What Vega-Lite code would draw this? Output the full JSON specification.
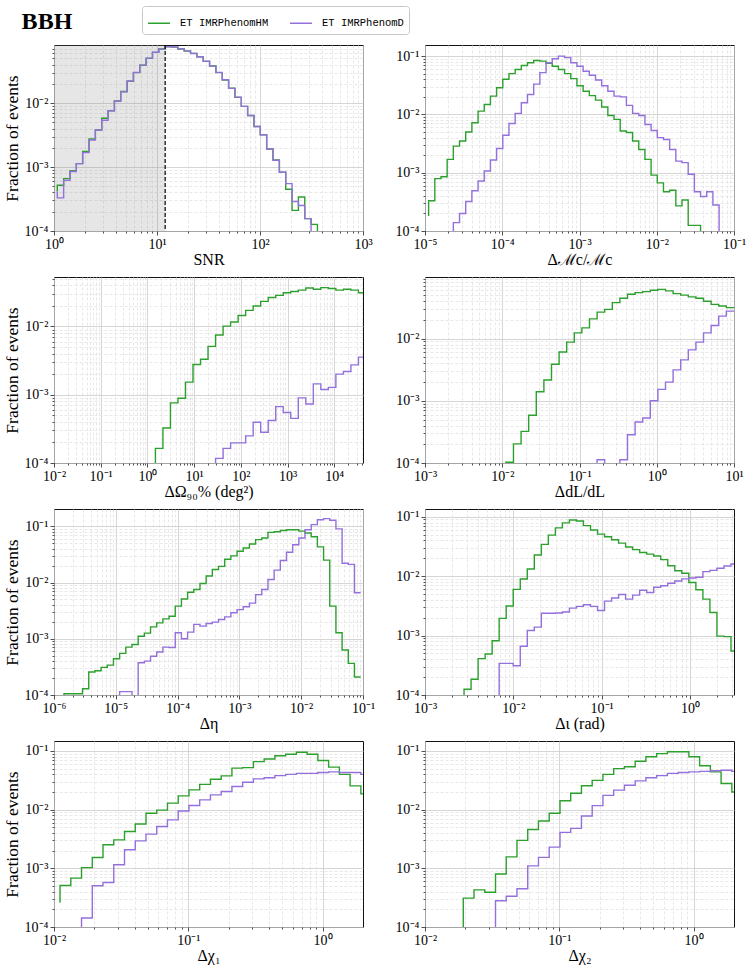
{
"$schema": "https://vega.github.io/schema/vega-lite/v6.json",
"padding": {"left": 2, "top": 5, "right": 5, "bottom": 5},
"title": {"text": "BBH", "anchor": "start", "font": "Liberation Serif", "fontSize": 24, "fontWeight": "bold", "color": "#000", "dx": 19, "offset": -28},
"datasets": {
"p1": [
{"model":"IMRPhenomHM","x":1.0765,"y":0.00042},{"model":"IMRPhenomHM","x":1.0765,"y":0.00052},{"model":"IMRPhenomHM","x":1.2405,"y":0.00066},{"model":"IMRPhenomHM","x":1.4295,"y":0.00088},{"model":"IMRPhenomHM","x":1.647,"y":0.00113},{"model":"IMRPhenomHM","x":1.898,"y":0.00175},{"model":"IMRPhenomHM","x":2.188,"y":0.00275},{"model":"IMRPhenomHM","x":2.521,"y":0.0038},{"model":"IMRPhenomHM","x":2.906,"y":0.0058},{"model":"IMRPhenomHM","x":3.348,"y":0.0076},{"model":"IMRPhenomHM","x":3.858,"y":0.0108},{"model":"IMRPhenomHM","x":4.446,"y":0.0152},{"model":"IMRPhenomHM","x":5.124,"y":0.022},{"model":"IMRPhenomHM","x":5.904,"y":0.03},{"model":"IMRPhenomHM","x":6.804,"y":0.039},{"model":"IMRPhenomHM","x":7.842,"y":0.05},{"model":"IMRPhenomHM","x":9.036,"y":0.062},{"model":"IMRPhenomHM","x":10.41,"y":0.07},{"model":"IMRPhenomHM","x":12.0,"y":0.076},{"model":"IMRPhenomHM","x":13.83,"y":0.075},{"model":"IMRPhenomHM","x":15.94,"y":0.07},{"model":"IMRPhenomHM","x":18.37,"y":0.065},{"model":"IMRPhenomHM","x":21.17,"y":0.06},{"model":"IMRPhenomHM","x":24.39,"y":0.053},{"model":"IMRPhenomHM","x":28.11,"y":0.045},{"model":"IMRPhenomHM","x":32.39,"y":0.038},{"model":"IMRPhenomHM","x":37.33,"y":0.03},{"model":"IMRPhenomHM","x":43.01,"y":0.023},{"model":"IMRPhenomHM","x":49.57,"y":0.0171},{"model":"IMRPhenomHM","x":57.13,"y":0.0123},{"model":"IMRPhenomHM","x":65.83,"y":0.0089},{"model":"IMRPhenomHM","x":75.86,"y":0.0064},{"model":"IMRPhenomHM","x":87.42,"y":0.0043},{"model":"IMRPhenomHM","x":100.7,"y":0.0032},{"model":"IMRPhenomHM","x":116.1,"y":0.00192},{"model":"IMRPhenomHM","x":133.8,"y":0.00129},{"model":"IMRPhenomHM","x":154.2,"y":0.00083},{"model":"IMRPhenomHM","x":177.7,"y":0.00045},{"model":"IMRPhenomHM","x":204.8,"y":0.00021},{"model":"IMRPhenomHM","x":236.0,"y":0.00034},{"model":"IMRPhenomHM","x":271.9,"y":0.000156},{"model":"IMRPhenomHM","x":313.3,"y":0.000127},{"model":"IMRPhenomHM","x":361.1,"y":0.000127},{"model":"IMRPhenomHM","x":361.1,"y":0.00001},
{"model":"IMRPhenomD","x":1.0765,"y":0.00042},{"model":"IMRPhenomD","x":1.0765,"y":0.00033},{"model":"IMRPhenomD","x":1.2405,"y":0.00062},{"model":"IMRPhenomD","x":1.4295,"y":0.00085},{"model":"IMRPhenomD","x":1.647,"y":0.00113},{"model":"IMRPhenomD","x":1.898,"y":0.00168},{"model":"IMRPhenomD","x":2.188,"y":0.00265},{"model":"IMRPhenomD","x":2.521,"y":0.0038},{"model":"IMRPhenomD","x":2.906,"y":0.0054},{"model":"IMRPhenomD","x":3.348,"y":0.0076},{"model":"IMRPhenomD","x":3.858,"y":0.0107},{"model":"IMRPhenomD","x":4.446,"y":0.015},{"model":"IMRPhenomD","x":5.124,"y":0.0222},{"model":"IMRPhenomD","x":5.904,"y":0.0302},{"model":"IMRPhenomD","x":6.804,"y":0.0392},{"model":"IMRPhenomD","x":7.842,"y":0.0505},{"model":"IMRPhenomD","x":9.036,"y":0.0625},{"model":"IMRPhenomD","x":10.41,"y":0.0705},{"model":"IMRPhenomD","x":12.0,"y":0.0765},{"model":"IMRPhenomD","x":13.83,"y":0.0755},{"model":"IMRPhenomD","x":15.94,"y":0.0705},{"model":"IMRPhenomD","x":18.37,"y":0.0655},{"model":"IMRPhenomD","x":21.17,"y":0.0595},{"model":"IMRPhenomD","x":24.39,"y":0.0532},{"model":"IMRPhenomD","x":28.11,"y":0.0452},{"model":"IMRPhenomD","x":32.39,"y":0.0378},{"model":"IMRPhenomD","x":37.33,"y":0.0302},{"model":"IMRPhenomD","x":43.01,"y":0.0232},{"model":"IMRPhenomD","x":49.57,"y":0.017},{"model":"IMRPhenomD","x":57.13,"y":0.0124},{"model":"IMRPhenomD","x":65.83,"y":0.0089},{"model":"IMRPhenomD","x":75.86,"y":0.0064},{"model":"IMRPhenomD","x":87.42,"y":0.0043},{"model":"IMRPhenomD","x":100.7,"y":0.0032},{"model":"IMRPhenomD","x":116.1,"y":0.00192},{"model":"IMRPhenomD","x":133.8,"y":0.00128},{"model":"IMRPhenomD","x":154.2,"y":0.00083},{"model":"IMRPhenomD","x":177.7,"y":0.00055},{"model":"IMRPhenomD","x":204.8,"y":0.00029},{"model":"IMRPhenomD","x":236.0,"y":0.00025},{"model":"IMRPhenomD","x":271.9,"y":0.000156},{"model":"IMRPhenomD","x":313.3,"y":0.000156},{"model":"IMRPhenomD","x":313.3,"y":0.00001}
],
"p2": [
{"model":"IMRPhenomHM","x":1.114e-5,"y":0.00018},{"model":"IMRPhenomHM","x":1.114e-5,"y":0.00033},{"model":"IMRPhenomHM","x":1.340e-5,"y":0.00079},{"model":"IMRPhenomHM","x":1.611e-5,"y":0.00085},{"model":"IMRPhenomHM","x":1.936e-5,"y":0.00169},{"model":"IMRPhenomHM","x":2.328e-5,"y":0.00286},{"model":"IMRPhenomHM","x":2.799e-5,"y":0.0035},{"model":"IMRPhenomHM","x":3.365e-5,"y":0.005},{"model":"IMRPhenomHM","x":4.046e-5,"y":0.0072},{"model":"IMRPhenomHM","x":4.864e-5,"y":0.0114},{"model":"IMRPhenomHM","x":5.848e-5,"y":0.0148},{"model":"IMRPhenomHM","x":7.031e-5,"y":0.0206},{"model":"IMRPhenomHM","x":8.453e-5,"y":0.0287},{"model":"IMRPhenomHM","x":1.016e-4,"y":0.04},{"model":"IMRPhenomHM","x":1.222e-4,"y":0.05},{"model":"IMRPhenomHM","x":1.469e-4,"y":0.059},{"model":"IMRPhenomHM","x":1.766e-4,"y":0.069},{"model":"IMRPhenomHM","x":2.123e-4,"y":0.077},{"model":"IMRPhenomHM","x":2.553e-4,"y":0.084},{"model":"IMRPhenomHM","x":3.069e-4,"y":0.082},{"model":"IMRPhenomHM","x":3.690e-4,"y":0.075},{"model":"IMRPhenomHM","x":4.436e-4,"y":0.067},{"model":"IMRPhenomHM","x":5.333e-4,"y":0.059},{"model":"IMRPhenomHM","x":6.412e-4,"y":0.05},{"model":"IMRPhenomHM","x":7.709e-4,"y":0.041},{"model":"IMRPhenomHM","x":9.268e-4,"y":0.031},{"model":"IMRPhenomHM","x":1.114e-3,"y":0.025},{"model":"IMRPhenomHM","x":1.340e-3,"y":0.021},{"model":"IMRPhenomHM","x":1.611e-3,"y":0.0176},{"model":"IMRPhenomHM","x":1.936e-3,"y":0.0134},{"model":"IMRPhenomHM","x":2.328e-3,"y":0.0096},{"model":"IMRPhenomHM","x":2.799e-3,"y":0.0082},{"model":"IMRPhenomHM","x":3.365e-3,"y":0.0052},{"model":"IMRPhenomHM","x":4.046e-3,"y":0.0049},{"model":"IMRPhenomHM","x":4.864e-3,"y":0.0035},{"model":"IMRPhenomHM","x":5.848e-3,"y":0.0025},{"model":"IMRPhenomHM","x":7.031e-3,"y":0.00169},{"model":"IMRPhenomHM","x":8.453e-3,"y":0.00091},{"model":"IMRPhenomHM","x":1.016e-2,"y":0.00067},{"model":"IMRPhenomHM","x":1.222e-2,"y":0.00047},{"model":"IMRPhenomHM","x":1.469e-2,"y":0.0005},{"model":"IMRPhenomHM","x":1.766e-2,"y":0.00027},{"model":"IMRPhenomHM","x":2.123e-2,"y":0.00034},{"model":"IMRPhenomHM","x":2.553e-2,"y":0.000125},{"model":"IMRPhenomHM","x":3.069e-2,"y":0.000125},{"model":"IMRPhenomHM","x":3.690e-2,"y":0.000125},{"model":"IMRPhenomHM","x":3.690e-2,"y":0.00001},
{"model":"IMRPhenomD","x":2.328e-5,"y":0.00001},{"model":"IMRPhenomD","x":2.328e-5,"y":0.000139},{"model":"IMRPhenomD","x":2.799e-5,"y":0.0002},{"model":"IMRPhenomD","x":3.365e-5,"y":0.00032},{"model":"IMRPhenomD","x":4.046e-5,"y":0.00049},{"model":"IMRPhenomD","x":4.864e-5,"y":0.00072},{"model":"IMRPhenomD","x":5.848e-5,"y":0.00107},{"model":"IMRPhenomD","x":7.031e-5,"y":0.00165},{"model":"IMRPhenomD","x":8.453e-5,"y":0.0026},{"model":"IMRPhenomD","x":1.016e-4,"y":0.0044},{"model":"IMRPhenomD","x":1.222e-4,"y":0.007},{"model":"IMRPhenomD","x":1.469e-4,"y":0.0104},{"model":"IMRPhenomD","x":1.766e-4,"y":0.0158},{"model":"IMRPhenomD","x":2.123e-4,"y":0.022},{"model":"IMRPhenomD","x":2.553e-4,"y":0.033},{"model":"IMRPhenomD","x":3.069e-4,"y":0.052},{"model":"IMRPhenomD","x":3.690e-4,"y":0.077},{"model":"IMRPhenomD","x":4.436e-4,"y":0.09},{"model":"IMRPhenomD","x":5.333e-4,"y":0.1},{"model":"IMRPhenomD","x":6.412e-4,"y":0.094},{"model":"IMRPhenomD","x":7.709e-4,"y":0.077},{"model":"IMRPhenomD","x":9.268e-4,"y":0.067},{"model":"IMRPhenomD","x":1.114e-3,"y":0.055},{"model":"IMRPhenomD","x":1.340e-3,"y":0.047},{"model":"IMRPhenomD","x":1.611e-3,"y":0.039},{"model":"IMRPhenomD","x":1.936e-3,"y":0.031},{"model":"IMRPhenomD","x":2.328e-3,"y":0.025},{"model":"IMRPhenomD","x":2.799e-3,"y":0.0206},{"model":"IMRPhenomD","x":3.365e-3,"y":0.02},{"model":"IMRPhenomD","x":4.046e-3,"y":0.0143},{"model":"IMRPhenomD","x":4.864e-3,"y":0.0104},{"model":"IMRPhenomD","x":5.848e-3,"y":0.0096},{"model":"IMRPhenomD","x":7.031e-3,"y":0.0067},{"model":"IMRPhenomD","x":8.453e-3,"y":0.0053},{"model":"IMRPhenomD","x":1.016e-2,"y":0.004},{"model":"IMRPhenomD","x":1.222e-2,"y":0.0037},{"model":"IMRPhenomD","x":1.469e-2,"y":0.0025},{"model":"IMRPhenomD","x":1.766e-2,"y":0.00158},{"model":"IMRPhenomD","x":2.123e-2,"y":0.00149},{"model":"IMRPhenomD","x":2.553e-2,"y":0.00094},{"model":"IMRPhenomD","x":3.069e-2,"y":0.00047},{"model":"IMRPhenomD","x":3.690e-2,"y":0.00039},{"model":"IMRPhenomD","x":4.436e-2,"y":0.00047},{"model":"IMRPhenomD","x":5.333e-2,"y":0.00028},{"model":"IMRPhenomD","x":6.412e-2,"y":0.00028},{"model":"IMRPhenomD","x":6.412e-2,"y":0.00001}
],
"p3": [
{"model":"IMRPhenomHM","x":1.483,"y":0.00001},{"model":"IMRPhenomHM","x":1.483,"y":0.000164},{"model":"IMRPhenomHM","x":2.148,"y":0.000326},{"model":"IMRPhenomHM","x":3.112,"y":0.00076},{"model":"IMRPhenomHM","x":4.508,"y":0.00089},{"model":"IMRPhenomHM","x":6.531,"y":0.00153},{"model":"IMRPhenomHM","x":9.462,"y":0.00277},{"model":"IMRPhenomHM","x":13.71,"y":0.0033},{"model":"IMRPhenomHM","x":19.86,"y":0.0051},{"model":"IMRPhenomHM","x":28.77,"y":0.0075},{"model":"IMRPhenomHM","x":41.69,"y":0.0101},{"model":"IMRPhenomHM","x":60.39,"y":0.0116},{"model":"IMRPhenomHM","x":87.5,"y":0.0145},{"model":"IMRPhenomHM","x":126.8,"y":0.0172},{"model":"IMRPhenomHM","x":183.7,"y":0.0199},{"model":"IMRPhenomHM","x":266.1,"y":0.0233},{"model":"IMRPhenomHM","x":385.5,"y":0.0266},{"model":"IMRPhenomHM","x":558.5,"y":0.0285},{"model":"IMRPhenomHM","x":809.1,"y":0.0312},{"model":"IMRPhenomHM","x":1172,"y":0.0325},{"model":"IMRPhenomHM","x":1698,"y":0.034},{"model":"IMRPhenomHM","x":2460,"y":0.0365},{"model":"IMRPhenomHM","x":3565,"y":0.035},{"model":"IMRPhenomHM","x":5164,"y":0.037},{"model":"IMRPhenomHM","x":7482,"y":0.036},{"model":"IMRPhenomHM","x":10839,"y":0.034},{"model":"IMRPhenomHM","x":15704,"y":0.035},{"model":"IMRPhenomHM","x":22751,"y":0.034},{"model":"IMRPhenomHM","x":32961,"y":0.0312},{"model":"IMRPhenomHM","x":47753,"y":0.0312},
{"model":"IMRPhenomD","x":28.77,"y":0.00001},{"model":"IMRPhenomD","x":28.77,"y":0.000117},{"model":"IMRPhenomD","x":41.69,"y":0.000164},{"model":"IMRPhenomD","x":60.39,"y":0.000197},{"model":"IMRPhenomD","x":87.5,"y":0.000197},{"model":"IMRPhenomD","x":126.8,"y":0.00025},{"model":"IMRPhenomD","x":183.7,"y":0.000395},{"model":"IMRPhenomD","x":266.1,"y":0.000282},{"model":"IMRPhenomD","x":385.5,"y":0.00042},{"model":"IMRPhenomD","x":558.5,"y":0.00067},{"model":"IMRPhenomD","x":809.1,"y":0.00055},{"model":"IMRPhenomD","x":1172,"y":0.00045},{"model":"IMRPhenomD","x":1698,"y":0.0009},{"model":"IMRPhenomD","x":2460,"y":0.00073},{"model":"IMRPhenomD","x":3565,"y":0.00144},{"model":"IMRPhenomD","x":5164,"y":0.00119},{"model":"IMRPhenomD","x":7482,"y":0.00128},{"model":"IMRPhenomD","x":10839,"y":0.002},{"model":"IMRPhenomD","x":15704,"y":0.00219},{"model":"IMRPhenomD","x":22751,"y":0.00274},{"model":"IMRPhenomD","x":32961,"y":0.00355},{"model":"IMRPhenomD","x":47753,"y":0.00355}
],
"p4": [
{"model":"IMRPhenomHM","x":0.01114,"y":0.00001},{"model":"IMRPhenomHM","x":0.01114,"y":0.000103},{"model":"IMRPhenomHM","x":0.01397,"y":0.000203},{"model":"IMRPhenomHM","x":0.01753,"y":0.000322},{"model":"IMRPhenomHM","x":0.02199,"y":0.000586},{"model":"IMRPhenomHM","x":0.02758,"y":0.0014},{"model":"IMRPhenomHM","x":0.03459,"y":0.00216},{"model":"IMRPhenomHM","x":0.04339,"y":0.00388},{"model":"IMRPhenomHM","x":0.05443,"y":0.00608},{"model":"IMRPhenomHM","x":0.06826,"y":0.0088},{"model":"IMRPhenomHM","x":0.08562,"y":0.0124},{"model":"IMRPhenomHM","x":0.1074,"y":0.0149},{"model":"IMRPhenomHM","x":0.1347,"y":0.0208},{"model":"IMRPhenomHM","x":0.169,"y":0.0267},{"model":"IMRPhenomHM","x":0.2119,"y":0.0295},{"model":"IMRPhenomHM","x":0.2658,"y":0.0379},{"model":"IMRPhenomHM","x":0.3334,"y":0.0445},{"model":"IMRPhenomHM","x":0.4182,"y":0.0517},{"model":"IMRPhenomHM","x":0.5246,"y":0.055},{"model":"IMRPhenomHM","x":0.658,"y":0.057},{"model":"IMRPhenomHM","x":0.8253,"y":0.06},{"model":"IMRPhenomHM","x":1.035,"y":0.062},{"model":"IMRPhenomHM","x":1.298,"y":0.0586},{"model":"IMRPhenomHM","x":1.628,"y":0.053},{"model":"IMRPhenomHM","x":2.043,"y":0.05},{"model":"IMRPhenomHM","x":2.562,"y":0.047},{"model":"IMRPhenomHM","x":3.214,"y":0.0445},{"model":"IMRPhenomHM","x":4.031,"y":0.04},{"model":"IMRPhenomHM","x":5.056,"y":0.0356},{"model":"IMRPhenomHM","x":6.342,"y":0.0334},{"model":"IMRPhenomHM","x":7.954,"y":0.0315},{"model":"IMRPhenomHM","x":10.0,"y":0.0315},
{"model":"IMRPhenomD","x":0.169,"y":0.00001},{"model":"IMRPhenomD","x":0.169,"y":0.000113},{"model":"IMRPhenomD","x":0.2119,"y":0.00001},{"model":"IMRPhenomD","x":0.3334,"y":0.00001},{"model":"IMRPhenomD","x":0.3334,"y":0.000113},{"model":"IMRPhenomD","x":0.4182,"y":0.000285},{"model":"IMRPhenomD","x":0.5246,"y":0.000456},{"model":"IMRPhenomD","x":0.658,"y":0.00053},{"model":"IMRPhenomD","x":0.8253,"y":0.001},{"model":"IMRPhenomD","x":1.035,"y":0.00153},{"model":"IMRPhenomD","x":1.298,"y":0.002},{"model":"IMRPhenomD","x":1.628,"y":0.00314},{"model":"IMRPhenomD","x":2.043,"y":0.00456},{"model":"IMRPhenomD","x":2.562,"y":0.0066},{"model":"IMRPhenomD","x":3.214,"y":0.0088},{"model":"IMRPhenomD","x":4.031,"y":0.0124},{"model":"IMRPhenomD","x":5.056,"y":0.0163},{"model":"IMRPhenomD","x":6.342,"y":0.023},{"model":"IMRPhenomD","x":7.954,"y":0.0277},{"model":"IMRPhenomD","x":10.0,"y":0.0277}
],
"p5": [
{"model":"IMRPhenomHM","x":1.452e-6,"y":0.00001},{"model":"IMRPhenomHM","x":1.452e-6,"y":0.000105},{"model":"IMRPhenomHM","x":1.828e-6,"y":0.000105},{"model":"IMRPhenomHM","x":2.302e-6,"y":0.000105},{"model":"IMRPhenomHM","x":2.897e-6,"y":0.000129},{"model":"IMRPhenomHM","x":3.648e-6,"y":0.000256},{"model":"IMRPhenomHM","x":4.592e-6,"y":0.00027},{"model":"IMRPhenomHM","x":5.781e-6,"y":0.00031},{"model":"IMRPhenomHM","x":7.278e-6,"y":0.00034},{"model":"IMRPhenomHM","x":9.162e-6,"y":0.00044},{"model":"IMRPhenomHM","x":1.153e-5,"y":0.00055},{"model":"IMRPhenomHM","x":1.452e-5,"y":0.00071},{"model":"IMRPhenomHM","x":1.828e-5,"y":0.00079},{"model":"IMRPhenomHM","x":2.302e-5,"y":0.00111},{"model":"IMRPhenomHM","x":2.897e-5,"y":0.00126},{"model":"IMRPhenomHM","x":3.648e-5,"y":0.00163},{"model":"IMRPhenomHM","x":4.592e-5,"y":0.00192},{"model":"IMRPhenomHM","x":5.781e-5,"y":0.00226},{"model":"IMRPhenomHM","x":7.278e-5,"y":0.00252},{"model":"IMRPhenomHM","x":9.162e-5,"y":0.0038},{"model":"IMRPhenomHM","x":1.153e-4,"y":0.0051},{"model":"IMRPhenomHM","x":1.452e-4,"y":0.0067},{"model":"IMRPhenomHM","x":1.828e-4,"y":0.0075},{"model":"IMRPhenomHM","x":2.302e-4,"y":0.0096},{"model":"IMRPhenomHM","x":2.897e-4,"y":0.0131},{"model":"IMRPhenomHM","x":3.648e-4,"y":0.017},{"model":"IMRPhenomHM","x":4.592e-4,"y":0.0194},{"model":"IMRPhenomHM","x":5.781e-4,"y":0.026},{"model":"IMRPhenomHM","x":7.278e-4,"y":0.0298},{"model":"IMRPhenomHM","x":9.162e-4,"y":0.036},{"model":"IMRPhenomHM","x":1.153e-3,"y":0.041},{"model":"IMRPhenomHM","x":1.452e-3,"y":0.0485},{"model":"IMRPhenomHM","x":1.828e-3,"y":0.058},{"model":"IMRPhenomHM","x":2.302e-3,"y":0.062},{"model":"IMRPhenomHM","x":2.897e-3,"y":0.078},{"model":"IMRPhenomHM","x":3.648e-3,"y":0.08},{"model":"IMRPhenomHM","x":4.592e-3,"y":0.084},{"model":"IMRPhenomHM","x":5.781e-3,"y":0.087},{"model":"IMRPhenomHM","x":7.278e-3,"y":0.087},{"model":"IMRPhenomHM","x":9.162e-3,"y":0.082},{"model":"IMRPhenomHM","x":1.153e-2,"y":0.076},{"model":"IMRPhenomHM","x":1.452e-2,"y":0.065},{"model":"IMRPhenomHM","x":1.828e-2,"y":0.043},{"model":"IMRPhenomHM","x":2.302e-2,"y":0.025},{"model":"IMRPhenomHM","x":2.897e-2,"y":0.0038},{"model":"IMRPhenomHM","x":3.648e-2,"y":0.00128},{"model":"IMRPhenomHM","x":4.592e-2,"y":0.00063},{"model":"IMRPhenomHM","x":5.781e-2,"y":0.000365},{"model":"IMRPhenomHM","x":7.278e-2,"y":0.000209},{"model":"IMRPhenomHM","x":9.162e-2,"y":0.000209},
{"model":"IMRPhenomD","x":1.153e-5,"y":0.00001},{"model":"IMRPhenomD","x":1.153e-5,"y":0.000115},{"model":"IMRPhenomD","x":1.452e-5,"y":0.000115},{"model":"IMRPhenomD","x":1.828e-5,"y":0.00001},{"model":"IMRPhenomD","x":2.302e-5,"y":0.000375},{"model":"IMRPhenomD","x":2.897e-5,"y":0.0004},{"model":"IMRPhenomD","x":3.648e-5,"y":0.00049},{"model":"IMRPhenomD","x":4.592e-5,"y":0.00058},{"model":"IMRPhenomD","x":5.781e-5,"y":0.00071},{"model":"IMRPhenomD","x":7.278e-5,"y":0.0007},{"model":"IMRPhenomD","x":9.162e-5,"y":0.00128},{"model":"IMRPhenomD","x":1.153e-4,"y":0.001},{"model":"IMRPhenomD","x":1.452e-4,"y":0.00131},{"model":"IMRPhenomD","x":1.828e-4,"y":0.0018},{"model":"IMRPhenomD","x":2.302e-4,"y":0.00168},{"model":"IMRPhenomD","x":2.897e-4,"y":0.00187},{"model":"IMRPhenomD","x":3.648e-4,"y":0.00198},{"model":"IMRPhenomD","x":4.592e-4,"y":0.0022},{"model":"IMRPhenomD","x":5.781e-4,"y":0.00245},{"model":"IMRPhenomD","x":7.278e-4,"y":0.0029},{"model":"IMRPhenomD","x":9.162e-4,"y":0.0033},{"model":"IMRPhenomD","x":1.153e-3,"y":0.0037},{"model":"IMRPhenomD","x":1.452e-3,"y":0.0043},{"model":"IMRPhenomD","x":1.828e-3,"y":0.0061},{"model":"IMRPhenomD","x":2.302e-3,"y":0.0075},{"model":"IMRPhenomD","x":2.897e-3,"y":0.0113},{"model":"IMRPhenomD","x":3.648e-3,"y":0.0166},{"model":"IMRPhenomD","x":4.592e-3,"y":0.0246},{"model":"IMRPhenomD","x":5.781e-3,"y":0.0345},{"model":"IMRPhenomD","x":7.278e-3,"y":0.047},{"model":"IMRPhenomD","x":9.162e-3,"y":0.062},{"model":"IMRPhenomD","x":1.153e-2,"y":0.087},{"model":"IMRPhenomD","x":1.452e-2,"y":0.107},{"model":"IMRPhenomD","x":1.828e-2,"y":0.131},{"model":"IMRPhenomD","x":2.302e-2,"y":0.137},{"model":"IMRPhenomD","x":2.897e-2,"y":0.128},{"model":"IMRPhenomD","x":3.648e-2,"y":0.09},{"model":"IMRPhenomD","x":4.592e-2,"y":0.022},{"model":"IMRPhenomD","x":5.781e-2,"y":0.021},{"model":"IMRPhenomD","x":7.278e-2,"y":0.0066},{"model":"IMRPhenomD","x":9.162e-2,"y":0.0066}
],
"p6": [
{"model":"IMRPhenomHM","x":2.767e-3,"y":0.00001},{"model":"IMRPhenomHM","x":2.767e-3,"y":0.000125},{"model":"IMRPhenomHM","x":3.323e-3,"y":0.000184},{"model":"IMRPhenomHM","x":3.990e-3,"y":0.00041},{"model":"IMRPhenomHM","x":4.792e-3,"y":0.00049},{"model":"IMRPhenomHM","x":5.754e-3,"y":0.00082},{"model":"IMRPhenomHM","x":6.910e-3,"y":0.00195},{"model":"IMRPhenomHM","x":8.298e-3,"y":0.00314},{"model":"IMRPhenomHM","x":9.966e-3,"y":0.006},{"model":"IMRPhenomHM","x":1.197e-2,"y":0.00895},{"model":"IMRPhenomHM","x":1.437e-2,"y":0.0132},{"model":"IMRPhenomHM","x":1.726e-2,"y":0.0227},{"model":"IMRPhenomHM","x":2.073e-2,"y":0.0343},{"model":"IMRPhenomHM","x":2.489e-2,"y":0.049},{"model":"IMRPhenomHM","x":2.989e-2,"y":0.065},{"model":"IMRPhenomHM","x":3.589e-2,"y":0.079},{"model":"IMRPhenomHM","x":4.310e-2,"y":0.088},{"model":"IMRPhenomHM","x":5.176e-2,"y":0.085},{"model":"IMRPhenomHM","x":6.216e-2,"y":0.071},{"model":"IMRPhenomHM","x":7.464e-2,"y":0.06},{"model":"IMRPhenomHM","x":8.964e-2,"y":0.051},{"model":"IMRPhenomHM","x":0.1076,"y":0.046},{"model":"IMRPhenomHM","x":0.1293,"y":0.041},{"model":"IMRPhenomHM","x":0.1552,"y":0.036},{"model":"IMRPhenomHM","x":0.1864,"y":0.031},{"model":"IMRPhenomHM","x":0.2239,"y":0.028},{"model":"IMRPhenomHM","x":0.2688,"y":0.025},{"model":"IMRPhenomHM","x":0.3228,"y":0.0235},{"model":"IMRPhenomHM","x":0.3877,"y":0.0218},{"model":"IMRPhenomHM","x":0.4656,"y":0.019},{"model":"IMRPhenomHM","x":0.5591,"y":0.015},{"model":"IMRPhenomHM","x":0.6714,"y":0.0123},{"model":"IMRPhenomHM","x":0.8063,"y":0.0112},{"model":"IMRPhenomHM","x":0.9683,"y":0.0078},{"model":"IMRPhenomHM","x":1.1628,"y":0.0059},{"model":"IMRPhenomHM","x":1.3964,"y":0.0041},{"model":"IMRPhenomHM","x":1.6768,"y":0.00245},{"model":"IMRPhenomHM","x":2.0137,"y":0.00098},{"model":"IMRPhenomHM","x":2.418,"y":0.00096},{"model":"IMRPhenomHM","x":2.904,"y":0.00055},{"model":"IMRPhenomHM","x":3.4874,"y":0.00055},
{"model":"IMRPhenomD","x":6.910e-3,"y":0.00001},{"model":"IMRPhenomD","x":6.910e-3,"y":0.00034},{"model":"IMRPhenomD","x":8.298e-3,"y":0.00034},{"model":"IMRPhenomD","x":9.966e-3,"y":0.00031},{"model":"IMRPhenomD","x":1.197e-2,"y":0.00066},{"model":"IMRPhenomD","x":1.437e-2,"y":0.00122},{"model":"IMRPhenomD","x":1.726e-2,"y":0.00139},{"model":"IMRPhenomD","x":2.073e-2,"y":0.00237},{"model":"IMRPhenomD","x":2.489e-2,"y":0.00237},{"model":"IMRPhenomD","x":2.989e-2,"y":0.0024},{"model":"IMRPhenomD","x":3.589e-2,"y":0.0025},{"model":"IMRPhenomD","x":4.310e-2,"y":0.0029},{"model":"IMRPhenomD","x":5.176e-2,"y":0.0031},{"model":"IMRPhenomD","x":6.216e-2,"y":0.0033},{"model":"IMRPhenomD","x":7.464e-2,"y":0.0031},{"model":"IMRPhenomD","x":8.964e-2,"y":0.00265},{"model":"IMRPhenomD","x":0.1076,"y":0.0038},{"model":"IMRPhenomD","x":0.1293,"y":0.0043},{"model":"IMRPhenomD","x":0.1552,"y":0.0049},{"model":"IMRPhenomD","x":0.1864,"y":0.0041},{"model":"IMRPhenomD","x":0.2239,"y":0.0048},{"model":"IMRPhenomD","x":0.2688,"y":0.0058},{"model":"IMRPhenomD","x":0.3228,"y":0.0053},{"model":"IMRPhenomD","x":0.3877,"y":0.0065},{"model":"IMRPhenomD","x":0.4656,"y":0.0069},{"model":"IMRPhenomD","x":0.5591,"y":0.0076},{"model":"IMRPhenomD","x":0.6714,"y":0.0083},{"model":"IMRPhenomD","x":0.8063,"y":0.009},{"model":"IMRPhenomD","x":0.9683,"y":0.0093},{"model":"IMRPhenomD","x":1.1628,"y":0.0096},{"model":"IMRPhenomD","x":1.3964,"y":0.0119},{"model":"IMRPhenomD","x":1.6768,"y":0.0125},{"model":"IMRPhenomD","x":2.0137,"y":0.0136},{"model":"IMRPhenomD","x":2.418,"y":0.0148},{"model":"IMRPhenomD","x":2.904,"y":0.016},{"model":"IMRPhenomD","x":3.4874,"y":0.016}
],
"p7": [
{"model":"IMRPhenomHM","x":0.01109,"y":0.00026},{"model":"IMRPhenomHM","x":0.01109,"y":0.00051},{"model":"IMRPhenomHM","x":0.01334,"y":0.00068},{"model":"IMRPhenomHM","x":0.01603,"y":0.00103},{"model":"IMRPhenomHM","x":0.01928,"y":0.00153},{"model":"IMRPhenomHM","x":0.02317,"y":0.00252},{"model":"IMRPhenomHM","x":0.02786,"y":0.00306},{"model":"IMRPhenomHM","x":0.0335,"y":0.00425},{"model":"IMRPhenomHM","x":0.04027,"y":0.0057},{"model":"IMRPhenomHM","x":0.04842,"y":0.0087},{"model":"IMRPhenomHM","x":0.05821,"y":0.0098},{"model":"IMRPhenomHM","x":0.06998,"y":0.0129},{"model":"IMRPhenomHM","x":0.08414,"y":0.0172},{"model":"IMRPhenomHM","x":0.1012,"y":0.0217},{"model":"IMRPhenomHM","x":0.1216,"y":0.027},{"model":"IMRPhenomHM","x":0.1462,"y":0.033},{"model":"IMRPhenomHM","x":0.1758,"y":0.0376},{"model":"IMRPhenomHM","x":0.2113,"y":0.051},{"model":"IMRPhenomHM","x":0.2541,"y":0.052},{"model":"IMRPhenomHM","x":0.3055,"y":0.066},{"model":"IMRPhenomHM","x":0.3673,"y":0.073},{"model":"IMRPhenomHM","x":0.4416,"y":0.083},{"model":"IMRPhenomHM","x":0.5309,"y":0.088},{"model":"IMRPhenomHM","x":0.6383,"y":0.095},{"model":"IMRPhenomHM","x":0.7674,"y":0.088},{"model":"IMRPhenomHM","x":0.9226,"y":0.069},{"model":"IMRPhenomHM","x":1.109,"y":0.053},{"model":"IMRPhenomHM","x":1.334,"y":0.04},{"model":"IMRPhenomHM","x":1.603,"y":0.0254},{"model":"IMRPhenomHM","x":1.928,"y":0.0186},{"model":"IMRPhenomHM","x":2.317,"y":0.0186},
{"model":"IMRPhenomD","x":0.01603,"y":0.00001},{"model":"IMRPhenomD","x":0.01603,"y":0.000142},{"model":"IMRPhenomD","x":0.01928,"y":0.000505},{"model":"IMRPhenomD","x":0.02317,"y":0.000575},{"model":"IMRPhenomD","x":0.02786,"y":0.00115},{"model":"IMRPhenomD","x":0.0335,"y":0.00207},{"model":"IMRPhenomD","x":0.04027,"y":0.00294},{"model":"IMRPhenomD","x":0.04842,"y":0.00383},{"model":"IMRPhenomD","x":0.05821,"y":0.00517},{"model":"IMRPhenomD","x":0.06998,"y":0.0067},{"model":"IMRPhenomD","x":0.08414,"y":0.0095},{"model":"IMRPhenomD","x":0.1012,"y":0.0118},{"model":"IMRPhenomD","x":0.1216,"y":0.0147},{"model":"IMRPhenomD","x":0.1462,"y":0.0179},{"model":"IMRPhenomD","x":0.1758,"y":0.0204},{"model":"IMRPhenomD","x":0.2113,"y":0.0248},{"model":"IMRPhenomD","x":0.2541,"y":0.0293},{"model":"IMRPhenomD","x":0.3055,"y":0.0335},{"model":"IMRPhenomD","x":0.3673,"y":0.035},{"model":"IMRPhenomD","x":0.4416,"y":0.038},{"model":"IMRPhenomD","x":0.5309,"y":0.04},{"model":"IMRPhenomD","x":0.6383,"y":0.0415},{"model":"IMRPhenomD","x":0.7674,"y":0.0415},{"model":"IMRPhenomD","x":0.9226,"y":0.043},{"model":"IMRPhenomD","x":1.109,"y":0.044},{"model":"IMRPhenomD","x":1.334,"y":0.043},{"model":"IMRPhenomD","x":1.603,"y":0.043},{"model":"IMRPhenomD","x":1.928,"y":0.04},{"model":"IMRPhenomD","x":2.317,"y":0.04}
],
"p8": [
{"model":"IMRPhenomHM","x":0.01928,"y":0.00001},{"model":"IMRPhenomHM","x":0.01928,"y":0.00031},{"model":"IMRPhenomHM","x":0.02317,"y":0.00043},{"model":"IMRPhenomHM","x":0.02786,"y":0.00039},{"model":"IMRPhenomHM","x":0.0335,"y":0.0008},{"model":"IMRPhenomHM","x":0.04027,"y":0.00157},{"model":"IMRPhenomHM","x":0.04842,"y":0.003},{"model":"IMRPhenomHM","x":0.05821,"y":0.0046},{"model":"IMRPhenomHM","x":0.06998,"y":0.0064},{"model":"IMRPhenomHM","x":0.08414,"y":0.0087},{"model":"IMRPhenomHM","x":0.1012,"y":0.0142},{"model":"IMRPhenomHM","x":0.1216,"y":0.019},{"model":"IMRPhenomHM","x":0.1462,"y":0.0255},{"model":"IMRPhenomHM","x":0.1758,"y":0.0315},{"model":"IMRPhenomHM","x":0.2113,"y":0.04},{"model":"IMRPhenomHM","x":0.2541,"y":0.05},{"model":"IMRPhenomHM","x":0.3055,"y":0.054},{"model":"IMRPhenomHM","x":0.3673,"y":0.067},{"model":"IMRPhenomHM","x":0.4416,"y":0.08},{"model":"IMRPhenomHM","x":0.5309,"y":0.09},{"model":"IMRPhenomHM","x":0.6383,"y":0.097},{"model":"IMRPhenomHM","x":0.7674,"y":0.097},{"model":"IMRPhenomHM","x":0.9226,"y":0.08},{"model":"IMRPhenomHM","x":1.109,"y":0.056},{"model":"IMRPhenomHM","x":1.334,"y":0.044},{"model":"IMRPhenomHM","x":1.603,"y":0.028},{"model":"IMRPhenomHM","x":1.928,"y":0.02},{"model":"IMRPhenomHM","x":2.317,"y":0.02},
{"model":"IMRPhenomD","x":0.0335,"y":0.00001},{"model":"IMRPhenomD","x":0.0335,"y":0.00028},{"model":"IMRPhenomD","x":0.04027,"y":0.000335},{"model":"IMRPhenomD","x":0.04842,"y":0.00045},{"model":"IMRPhenomD","x":0.05821,"y":0.0011},{"model":"IMRPhenomD","x":0.06998,"y":0.00154},{"model":"IMRPhenomD","x":0.08414,"y":0.0023},{"model":"IMRPhenomD","x":0.1012,"y":0.0041},{"model":"IMRPhenomD","x":0.1216,"y":0.0048},{"model":"IMRPhenomD","x":0.1462,"y":0.0078},{"model":"IMRPhenomD","x":0.1758,"y":0.0117},{"model":"IMRPhenomD","x":0.2113,"y":0.0175},{"model":"IMRPhenomD","x":0.2541,"y":0.0215},{"model":"IMRPhenomD","x":0.3055,"y":0.026},{"model":"IMRPhenomD","x":0.3673,"y":0.031},{"model":"IMRPhenomD","x":0.4416,"y":0.035},{"model":"IMRPhenomD","x":0.5309,"y":0.038},{"model":"IMRPhenomD","x":0.6383,"y":0.0415},{"model":"IMRPhenomD","x":0.7674,"y":0.043},{"model":"IMRPhenomD","x":0.9226,"y":0.044},{"model":"IMRPhenomD","x":1.109,"y":0.045},{"model":"IMRPhenomD","x":1.334,"y":0.046},{"model":"IMRPhenomD","x":1.603,"y":0.047},{"model":"IMRPhenomD","x":1.928,"y":0.045},{"model":"IMRPhenomD","x":2.317,"y":0.045}
]
},
"config": {
"view": {"stroke": "#111111", "strokeWidth": 1},
"axis": {"domain": false, "labelFont": "Liberation Serif", "labelFontSize": 14, "labelColor": "#000", "titleFont": "Liberation Serif", "titleFontSize": 16, "titleFontWeight": "normal", "titleColor": "#000", "tickColor": "#222", "tickWidth": 0.8, "gridWidth": 0.8, "labelFlush": false, "labelOverlap": false, "labelPadding": 2, "labelBound": false},
"axisX": {"titlePadding": 0},
"axisY": {"titlePadding": 3, "titleFontSize": 17.5},
"legend": {"orient": "none", "legendX": 88, "legendY": -39, "direction": "horizontal", "symbolType": "stroke", "symbolStrokeWidth": 1.5, "symbolSize": 480, "labelFont": "Liberation Mono", "labelFontSize": 10.5, "labelColor": "#000", "columnPadding": 18, "padding": 5, "strokeColor": "#c8c8c8", "fillColor": "#ffffff", "cornerRadius": 3, "labelOffset": 9}
},
"columns": 2,
"spacing": {"row": 46, "column": 62},
"bounds": "flush",
"resolve": {"scale": {"x": "independent", "y": "independent", "color": "shared"}},
"concat": [
{"width": 309, "height": 186, "layer": [
 {"data": {"values": [{"lo": 1, "hi": 12}]}, "mark": {"type": "rect", "color": "#808080", "opacity": 0.2}, "encoding": {"x": {"field": "lo", "type": "quantitative"}, "x2": {"field": "hi"}}},
 {"data": {"name": "p1"}, "mark": {"type": "line", "interpolate": "step-after", "clip": true, "strokeWidth": 1.4},
  "encoding": {
   "x": {"field": "x", "type": "quantitative", "scale": {"type": "log", "domain": [1, 1000], "nice": false}, "axis": {"title": "SNR", "values": [1,2,3,4,5,6,7,8,9,10,20,30,40,50,60,70,80,90,100,200,300,400,500,600,700,800,900,1000], "labelExpr": "abs(log(datum.value)/LN10-round(log(datum.value)/LN10))<0.001 ? '10'+replace(replace(replace(replace(replace(replace(replace(replace(''+round(log(datum.value)/LN10),'-','⁻'),'0','⁰'),'1','¹'),'2','²'),'3','³'),'4','⁴'),'5','⁵'),'6','⁶') : ''", "tickSize": {"condition": {"test": "abs(log(datum.value)/LN10-round(log(datum.value)/LN10))<0.001", "value": 4}, "value": 2}, "gridDash": {"condition": {"test": "abs(log(datum.value)/LN10-round(log(datum.value)/LN10))<0.001", "value": []}, "value": [3, 2]}, "gridColor": {"condition": {"test": "abs(log(datum.value)/LN10-round(log(datum.value)/LN10))<0.001", "value": "#cccccc"}, "value": "#e2e2e2"}}},
   "y": {"field": "y", "type": "quantitative", "scale": {"type": "log", "domain": [0.0001, 0.081], "nice": false}, "axis": {"title": "Fraction of events", "values": [1e-4,2e-4,3e-4,4e-4,5e-4,6e-4,7e-4,8e-4,9e-4,1e-3,2e-3,3e-3,4e-3,5e-3,6e-3,7e-3,8e-3,9e-3,1e-2,2e-2,3e-2,4e-2,5e-2,6e-2,7e-2], "labelExpr": "abs(log(datum.value)/LN10-round(log(datum.value)/LN10))<0.001 ? '10'+replace(replace(replace(replace(replace(replace(replace(replace(''+round(log(datum.value)/LN10),'-','⁻'),'0','⁰'),'1','¹'),'2','²'),'3','³'),'4','⁴'),'5','⁵'),'6','⁶') : ''", "tickSize": {"condition": {"test": "abs(log(datum.value)/LN10-round(log(datum.value)/LN10))<0.001", "value": 4}, "value": 2}, "gridDash": {"condition": {"test": "abs(log(datum.value)/LN10-round(log(datum.value)/LN10))<0.001", "value": []}, "value": [3, 2]}, "gridColor": {"condition": {"test": "abs(log(datum.value)/LN10-round(log(datum.value)/LN10))<0.001", "value": "#cccccc"}, "value": "#e2e2e2"}}},
   "color": {"field": "model", "type": "nominal", "scale": {"domain": ["IMRPhenomHM", "IMRPhenomD"], "range": ["#2ca02c", "#9370db"]}, "legend": {"title": null, "labelExpr": "'ET ' + datum.label"}},
   "order": {"value": null}
  }},
 {"data": {"values": [{"snr": 12}]}, "mark": {"type": "rule", "color": "#000", "strokeDash": [4, 2], "strokeWidth": 1.2}, "encoding": {"x": {"field": "snr", "type": "quantitative"}}}
]},
{"width": 309, "height": 186, "data": {"name": "p2"}, "mark": {"type": "line", "interpolate": "step-after", "clip": true, "strokeWidth": 1.4},
  "encoding": {
   "x": {"field": "x", "type": "quantitative", "scale": {"type": "log", "domain": [1e-5, 0.1], "nice": false}, "axis": {"title": "Δℳc/ℳc", "values": [1e-5,2e-5,3e-5,4e-5,5e-5,6e-5,7e-5,8e-5,9e-5,1e-4,2e-4,3e-4,4e-4,5e-4,6e-4,7e-4,8e-4,9e-4,1e-3,2e-3,3e-3,4e-3,5e-3,6e-3,7e-3,8e-3,9e-3,1e-2,2e-2,3e-2,4e-2,5e-2,6e-2,7e-2,8e-2,9e-2,1e-1], "labelExpr": "abs(log(datum.value)/LN10-round(log(datum.value)/LN10))<0.001 ? '10'+replace(replace(replace(replace(replace(replace(replace(replace(''+round(log(datum.value)/LN10),'-','⁻'),'0','⁰'),'1','¹'),'2','²'),'3','³'),'4','⁴'),'5','⁵'),'6','⁶') : ''", "tickSize": {"condition": {"test": "abs(log(datum.value)/LN10-round(log(datum.value)/LN10))<0.001", "value": 4}, "value": 2}, "gridDash": {"condition": {"test": "abs(log(datum.value)/LN10-round(log(datum.value)/LN10))<0.001", "value": []}, "value": [3, 2]}, "gridColor": {"condition": {"test": "abs(log(datum.value)/LN10-round(log(datum.value)/LN10))<0.001", "value": "#cccccc"}, "value": "#e2e2e2"}}},
   "y": {"field": "y", "type": "quantitative", "scale": {"type": "log", "domain": [0.0001, 0.155], "nice": false}, "axis": {"title": null, "values": [1e-4,2e-4,3e-4,4e-4,5e-4,6e-4,7e-4,8e-4,9e-4,1e-3,2e-3,3e-3,4e-3,5e-3,6e-3,7e-3,8e-3,9e-3,1e-2,2e-2,3e-2,4e-2,5e-2,6e-2,7e-2,8e-2,9e-2,1e-1], "labelExpr": "abs(log(datum.value)/LN10-round(log(datum.value)/LN10))<0.001 ? '10'+replace(replace(replace(replace(replace(replace(replace(replace(''+round(log(datum.value)/LN10),'-','⁻'),'0','⁰'),'1','¹'),'2','²'),'3','³'),'4','⁴'),'5','⁵'),'6','⁶') : ''", "tickSize": {"condition": {"test": "abs(log(datum.value)/LN10-round(log(datum.value)/LN10))<0.001", "value": 4}, "value": 2}, "gridDash": {"condition": {"test": "abs(log(datum.value)/LN10-round(log(datum.value)/LN10))<0.001", "value": []}, "value": [3, 2]}, "gridColor": {"condition": {"test": "abs(log(datum.value)/LN10-round(log(datum.value)/LN10))<0.001", "value": "#cccccc"}, "value": "#e2e2e2"}}},
   "color": {"field": "model", "type": "nominal", "scale": {"domain": ["IMRPhenomHM", "IMRPhenomD"], "range": ["#2ca02c", "#9370db"]}, "legend": {"title": null, "labelExpr": "'ET ' + datum.label"}},
   "order": {"value": null}
  }},
{"width": 309, "height": 186, "data": {"name": "p3"}, "mark": {"type": "line", "interpolate": "step-after", "clip": true, "strokeWidth": 1.4},
  "encoding": {
   "x": {"field": "x", "type": "quantitative", "scale": {"type": "log", "domain": [0.01, 41253], "nice": false}, "axis": {"title": "ΔΩ₉₀% (deg²)", "values": [1e-2,2e-2,3e-2,4e-2,5e-2,6e-2,7e-2,8e-2,9e-2,0.1,0.2,0.3,0.4,0.5,0.6,0.7,0.8,0.9,1,2,3,4,5,6,7,8,9,10,20,30,40,50,60,70,80,90,100,200,300,400,500,600,700,800,900,1000,2000,3000,4000,5000,6000,7000,8000,9000,10000,20000,30000,40000], "labelExpr": "abs(log(datum.value)/LN10-round(log(datum.value)/LN10))<0.001 ? '10'+replace(replace(replace(replace(replace(replace(replace(replace(''+round(log(datum.value)/LN10),'-','⁻'),'0','⁰'),'1','¹'),'2','²'),'3','³'),'4','⁴'),'5','⁵'),'6','⁶') : ''", "tickSize": {"condition": {"test": "abs(log(datum.value)/LN10-round(log(datum.value)/LN10))<0.001", "value": 4}, "value": 2}, "gridDash": {"condition": {"test": "abs(log(datum.value)/LN10-round(log(datum.value)/LN10))<0.001", "value": []}, "value": [3, 2]}, "gridColor": {"condition": {"test": "abs(log(datum.value)/LN10-round(log(datum.value)/LN10))<0.001", "value": "#cccccc"}, "value": "#e2e2e2"}}},
   "y": {"field": "y", "type": "quantitative", "scale": {"type": "log", "domain": [0.0001, 0.053], "nice": false}, "axis": {"title": "Fraction of events", "values": [1e-4,2e-4,3e-4,4e-4,5e-4,6e-4,7e-4,8e-4,9e-4,1e-3,2e-3,3e-3,4e-3,5e-3,6e-3,7e-3,8e-3,9e-3,1e-2,2e-2,3e-2,4e-2,5e-2], "labelExpr": "abs(log(datum.value)/LN10-round(log(datum.value)/LN10))<0.001 ? '10'+replace(replace(replace(replace(replace(replace(replace(replace(''+round(log(datum.value)/LN10),'-','⁻'),'0','⁰'),'1','¹'),'2','²'),'3','³'),'4','⁴'),'5','⁵'),'6','⁶') : ''", "tickSize": {"condition": {"test": "abs(log(datum.value)/LN10-round(log(datum.value)/LN10))<0.001", "value": 4}, "value": 2}, "gridDash": {"condition": {"test": "abs(log(datum.value)/LN10-round(log(datum.value)/LN10))<0.001", "value": []}, "value": [3, 2]}, "gridColor": {"condition": {"test": "abs(log(datum.value)/LN10-round(log(datum.value)/LN10))<0.001", "value": "#cccccc"}, "value": "#e2e2e2"}}},
   "color": {"field": "model", "type": "nominal", "scale": {"domain": ["IMRPhenomHM", "IMRPhenomD"], "range": ["#2ca02c", "#9370db"]}, "legend": {"title": null, "labelExpr": "'ET ' + datum.label"}},
   "order": {"value": null}
  }},
{"width": 309, "height": 186, "data": {"name": "p4"}, "mark": {"type": "line", "interpolate": "step-after", "clip": true, "strokeWidth": 1.4},
  "encoding": {
   "x": {"field": "x", "type": "quantitative", "scale": {"type": "log", "domain": [0.001, 10], "nice": false}, "axis": {"title": "ΔdL/dL", "values": [1e-3,2e-3,3e-3,4e-3,5e-3,6e-3,7e-3,8e-3,9e-3,1e-2,2e-2,3e-2,4e-2,5e-2,6e-2,7e-2,8e-2,9e-2,0.1,0.2,0.3,0.4,0.5,0.6,0.7,0.8,0.9,1,2,3,4,5,6,7,8,9,10], "labelExpr": "abs(log(datum.value)/LN10-round(log(datum.value)/LN10))<0.001 ? '10'+replace(replace(replace(replace(replace(replace(replace(replace(''+round(log(datum.value)/LN10),'-','⁻'),'0','⁰'),'1','¹'),'2','²'),'3','³'),'4','⁴'),'5','⁵'),'6','⁶') : ''", "tickSize": {"condition": {"test": "abs(log(datum.value)/LN10-round(log(datum.value)/LN10))<0.001", "value": 4}, "value": 2}, "gridDash": {"condition": {"test": "abs(log(datum.value)/LN10-round(log(datum.value)/LN10))<0.001", "value": []}, "value": [3, 2]}, "gridColor": {"condition": {"test": "abs(log(datum.value)/LN10-round(log(datum.value)/LN10))<0.001", "value": "#cccccc"}, "value": "#e2e2e2"}}},
   "y": {"field": "y", "type": "quantitative", "scale": {"type": "log", "domain": [0.0001, 0.098], "nice": false}, "axis": {"title": null, "values": [1e-4,2e-4,3e-4,4e-4,5e-4,6e-4,7e-4,8e-4,9e-4,1e-3,2e-3,3e-3,4e-3,5e-3,6e-3,7e-3,8e-3,9e-3,1e-2,2e-2,3e-2,4e-2,5e-2,6e-2,7e-2,8e-2,9e-2], "labelExpr": "abs(log(datum.value)/LN10-round(log(datum.value)/LN10))<0.001 ? '10'+replace(replace(replace(replace(replace(replace(replace(replace(''+round(log(datum.value)/LN10),'-','⁻'),'0','⁰'),'1','¹'),'2','²'),'3','³'),'4','⁴'),'5','⁵'),'6','⁶') : ''", "tickSize": {"condition": {"test": "abs(log(datum.value)/LN10-round(log(datum.value)/LN10))<0.001", "value": 4}, "value": 2}, "gridDash": {"condition": {"test": "abs(log(datum.value)/LN10-round(log(datum.value)/LN10))<0.001", "value": []}, "value": [3, 2]}, "gridColor": {"condition": {"test": "abs(log(datum.value)/LN10-round(log(datum.value)/LN10))<0.001", "value": "#cccccc"}, "value": "#e2e2e2"}}},
   "color": {"field": "model", "type": "nominal", "scale": {"domain": ["IMRPhenomHM", "IMRPhenomD"], "range": ["#2ca02c", "#9370db"]}, "legend": {"title": null, "labelExpr": "'ET ' + datum.label"}},
   "order": {"value": null}
  }},
{"width": 309, "height": 186, "data": {"name": "p5"}, "mark": {"type": "line", "interpolate": "step-after", "clip": true, "strokeWidth": 1.4},
  "encoding": {
   "x": {"field": "x", "type": "quantitative", "scale": {"type": "log", "domain": [1e-6, 0.1], "nice": false}, "axis": {"title": "Δη", "values": [1e-6,2e-6,3e-6,4e-6,5e-6,6e-6,7e-6,8e-6,9e-6,1e-5,2e-5,3e-5,4e-5,5e-5,6e-5,7e-5,8e-5,9e-5,1e-4,2e-4,3e-4,4e-4,5e-4,6e-4,7e-4,8e-4,9e-4,1e-3,2e-3,3e-3,4e-3,5e-3,6e-3,7e-3,8e-3,9e-3,1e-2,2e-2,3e-2,4e-2,5e-2,6e-2,7e-2,8e-2,9e-2,1e-1], "labelExpr": "abs(log(datum.value)/LN10-round(log(datum.value)/LN10))<0.001 ? '10'+replace(replace(replace(replace(replace(replace(replace(replace(''+round(log(datum.value)/LN10),'-','⁻'),'0','⁰'),'1','¹'),'2','²'),'3','³'),'4','⁴'),'5','⁵'),'6','⁶') : ''", "tickSize": {"condition": {"test": "abs(log(datum.value)/LN10-round(log(datum.value)/LN10))<0.001", "value": 4}, "value": 2}, "gridDash": {"condition": {"test": "abs(log(datum.value)/LN10-round(log(datum.value)/LN10))<0.001", "value": []}, "value": [3, 2]}, "gridColor": {"condition": {"test": "abs(log(datum.value)/LN10-round(log(datum.value)/LN10))<0.001", "value": "#cccccc"}, "value": "#e2e2e2"}}},
   "y": {"field": "y", "type": "quantitative", "scale": {"type": "log", "domain": [0.0001, 0.203], "nice": false}, "axis": {"title": "Fraction of events", "values": [1e-4,2e-4,3e-4,4e-4,5e-4,6e-4,7e-4,8e-4,9e-4,1e-3,2e-3,3e-3,4e-3,5e-3,6e-3,7e-3,8e-3,9e-3,1e-2,2e-2,3e-2,4e-2,5e-2,6e-2,7e-2,8e-2,9e-2,1e-1], "labelExpr": "abs(log(datum.value)/LN10-round(log(datum.value)/LN10))<0.001 ? '10'+replace(replace(replace(replace(replace(replace(replace(replace(''+round(log(datum.value)/LN10),'-','⁻'),'0','⁰'),'1','¹'),'2','²'),'3','³'),'4','⁴'),'5','⁵'),'6','⁶') : ''", "tickSize": {"condition": {"test": "abs(log(datum.value)/LN10-round(log(datum.value)/LN10))<0.001", "value": 4}, "value": 2}, "gridDash": {"condition": {"test": "abs(log(datum.value)/LN10-round(log(datum.value)/LN10))<0.001", "value": []}, "value": [3, 2]}, "gridColor": {"condition": {"test": "abs(log(datum.value)/LN10-round(log(datum.value)/LN10))<0.001", "value": "#cccccc"}, "value": "#e2e2e2"}}},
   "color": {"field": "model", "type": "nominal", "scale": {"domain": ["IMRPhenomHM", "IMRPhenomD"], "range": ["#2ca02c", "#9370db"]}, "legend": {"title": null, "labelExpr": "'ET ' + datum.label"}},
   "order": {"value": null}
  }},
{"width": 309, "height": 186, "data": {"name": "p6"}, "mark": {"type": "line", "interpolate": "step-after", "clip": true, "strokeWidth": 1.4},
  "encoding": {
   "x": {"field": "x", "type": "quantitative", "scale": {"type": "log", "domain": [0.001, 3.14159], "nice": false}, "axis": {"title": "Δι (rad)", "values": [1e-3,2e-3,3e-3,4e-3,5e-3,6e-3,7e-3,8e-3,9e-3,1e-2,2e-2,3e-2,4e-2,5e-2,6e-2,7e-2,8e-2,9e-2,0.1,0.2,0.3,0.4,0.5,0.6,0.7,0.8,0.9,1,2,3], "labelExpr": "abs(log(datum.value)/LN10-round(log(datum.value)/LN10))<0.001 ? '10'+replace(replace(replace(replace(replace(replace(replace(replace(''+round(log(datum.value)/LN10),'-','⁻'),'0','⁰'),'1','¹'),'2','²'),'3','³'),'4','⁴'),'5','⁵'),'6','⁶') : ''", "tickSize": {"condition": {"test": "abs(log(datum.value)/LN10-round(log(datum.value)/LN10))<0.001", "value": 4}, "value": 2}, "gridDash": {"condition": {"test": "abs(log(datum.value)/LN10-round(log(datum.value)/LN10))<0.001", "value": []}, "value": [3, 2]}, "gridColor": {"condition": {"test": "abs(log(datum.value)/LN10-round(log(datum.value)/LN10))<0.001", "value": "#cccccc"}, "value": "#e2e2e2"}}},
   "y": {"field": "y", "type": "quantitative", "scale": {"type": "log", "domain": [0.0001, 0.135], "nice": false}, "axis": {"title": null, "values": [1e-4,2e-4,3e-4,4e-4,5e-4,6e-4,7e-4,8e-4,9e-4,1e-3,2e-3,3e-3,4e-3,5e-3,6e-3,7e-3,8e-3,9e-3,1e-2,2e-2,3e-2,4e-2,5e-2,6e-2,7e-2,8e-2,9e-2,1e-1], "labelExpr": "abs(log(datum.value)/LN10-round(log(datum.value)/LN10))<0.001 ? '10'+replace(replace(replace(replace(replace(replace(replace(replace(''+round(log(datum.value)/LN10),'-','⁻'),'0','⁰'),'1','¹'),'2','²'),'3','³'),'4','⁴'),'5','⁵'),'6','⁶') : ''", "tickSize": {"condition": {"test": "abs(log(datum.value)/LN10-round(log(datum.value)/LN10))<0.001", "value": 4}, "value": 2}, "gridDash": {"condition": {"test": "abs(log(datum.value)/LN10-round(log(datum.value)/LN10))<0.001", "value": []}, "value": [3, 2]}, "gridColor": {"condition": {"test": "abs(log(datum.value)/LN10-round(log(datum.value)/LN10))<0.001", "value": "#cccccc"}, "value": "#e2e2e2"}}},
   "color": {"field": "model", "type": "nominal", "scale": {"domain": ["IMRPhenomHM", "IMRPhenomD"], "range": ["#2ca02c", "#9370db"]}, "legend": {"title": null, "labelExpr": "'ET ' + datum.label"}},
   "order": {"value": null}
  }},
{"width": 309, "height": 186, "data": {"name": "p7"}, "mark": {"type": "line", "interpolate": "step-after", "clip": true, "strokeWidth": 1.4},
  "encoding": {
   "x": {"field": "x", "type": "quantitative", "scale": {"type": "log", "domain": [0.01, 2], "nice": false}, "axis": {"title": "Δχ₁", "values": [1e-2,2e-2,3e-2,4e-2,5e-2,6e-2,7e-2,8e-2,9e-2,0.1,0.2,0.3,0.4,0.5,0.6,0.7,0.8,0.9,1], "labelExpr": "abs(log(datum.value)/LN10-round(log(datum.value)/LN10))<0.001 ? '10'+replace(replace(replace(replace(replace(replace(replace(replace(''+round(log(datum.value)/LN10),'-','⁻'),'0','⁰'),'1','¹'),'2','²'),'3','³'),'4','⁴'),'5','⁵'),'6','⁶') : ''", "tickSize": {"condition": {"test": "abs(log(datum.value)/LN10-round(log(datum.value)/LN10))<0.001", "value": 4}, "value": 2}, "gridDash": {"condition": {"test": "abs(log(datum.value)/LN10-round(log(datum.value)/LN10))<0.001", "value": []}, "value": [3, 2]}, "gridColor": {"condition": {"test": "abs(log(datum.value)/LN10-round(log(datum.value)/LN10))<0.001", "value": "#cccccc"}, "value": "#e2e2e2"}}},
   "y": {"field": "y", "type": "quantitative", "scale": {"type": "log", "domain": [0.0001, 0.148], "nice": false}, "axis": {"title": "Fraction of events", "values": [1e-4,2e-4,3e-4,4e-4,5e-4,6e-4,7e-4,8e-4,9e-4,1e-3,2e-3,3e-3,4e-3,5e-3,6e-3,7e-3,8e-3,9e-3,1e-2,2e-2,3e-2,4e-2,5e-2,6e-2,7e-2,8e-2,9e-2,1e-1], "labelExpr": "abs(log(datum.value)/LN10-round(log(datum.value)/LN10))<0.001 ? '10'+replace(replace(replace(replace(replace(replace(replace(replace(''+round(log(datum.value)/LN10),'-','⁻'),'0','⁰'),'1','¹'),'2','²'),'3','³'),'4','⁴'),'5','⁵'),'6','⁶') : ''", "tickSize": {"condition": {"test": "abs(log(datum.value)/LN10-round(log(datum.value)/LN10))<0.001", "value": 4}, "value": 2}, "gridDash": {"condition": {"test": "abs(log(datum.value)/LN10-round(log(datum.value)/LN10))<0.001", "value": []}, "value": [3, 2]}, "gridColor": {"condition": {"test": "abs(log(datum.value)/LN10-round(log(datum.value)/LN10))<0.001", "value": "#cccccc"}, "value": "#e2e2e2"}}},
   "color": {"field": "model", "type": "nominal", "scale": {"domain": ["IMRPhenomHM", "IMRPhenomD"], "range": ["#2ca02c", "#9370db"]}, "legend": {"title": null, "labelExpr": "'ET ' + datum.label"}},
   "order": {"value": null}
  }},
{"width": 309, "height": 186, "data": {"name": "p8"}, "mark": {"type": "line", "interpolate": "step-after", "clip": true, "strokeWidth": 1.4},
  "encoding": {
   "x": {"field": "x", "type": "quantitative", "scale": {"type": "log", "domain": [0.01, 2], "nice": false}, "axis": {"title": "Δχ₂", "values": [1e-2,2e-2,3e-2,4e-2,5e-2,6e-2,7e-2,8e-2,9e-2,0.1,0.2,0.3,0.4,0.5,0.6,0.7,0.8,0.9,1], "labelExpr": "abs(log(datum.value)/LN10-round(log(datum.value)/LN10))<0.001 ? '10'+replace(replace(replace(replace(replace(replace(replace(replace(''+round(log(datum.value)/LN10),'-','⁻'),'0','⁰'),'1','¹'),'2','²'),'3','³'),'4','⁴'),'5','⁵'),'6','⁶') : ''", "tickSize": {"condition": {"test": "abs(log(datum.value)/LN10-round(log(datum.value)/LN10))<0.001", "value": 4}, "value": 2}, "gridDash": {"condition": {"test": "abs(log(datum.value)/LN10-round(log(datum.value)/LN10))<0.001", "value": []}, "value": [3, 2]}, "gridColor": {"condition": {"test": "abs(log(datum.value)/LN10-round(log(datum.value)/LN10))<0.001", "value": "#cccccc"}, "value": "#e2e2e2"}}},
   "y": {"field": "y", "type": "quantitative", "scale": {"type": "log", "domain": [0.0001, 0.148], "nice": false}, "axis": {"title": null, "values": [1e-4,2e-4,3e-4,4e-4,5e-4,6e-4,7e-4,8e-4,9e-4,1e-3,2e-3,3e-3,4e-3,5e-3,6e-3,7e-3,8e-3,9e-3,1e-2,2e-2,3e-2,4e-2,5e-2,6e-2,7e-2,8e-2,9e-2,1e-1], "labelExpr": "abs(log(datum.value)/LN10-round(log(datum.value)/LN10))<0.001 ? '10'+replace(replace(replace(replace(replace(replace(replace(replace(''+round(log(datum.value)/LN10),'-','⁻'),'0','⁰'),'1','¹'),'2','²'),'3','³'),'4','⁴'),'5','⁵'),'6','⁶') : ''", "tickSize": {"condition": {"test": "abs(log(datum.value)/LN10-round(log(datum.value)/LN10))<0.001", "value": 4}, "value": 2}, "gridDash": {"condition": {"test": "abs(log(datum.value)/LN10-round(log(datum.value)/LN10))<0.001", "value": []}, "value": [3, 2]}, "gridColor": {"condition": {"test": "abs(log(datum.value)/LN10-round(log(datum.value)/LN10))<0.001", "value": "#cccccc"}, "value": "#e2e2e2"}}},
   "color": {"field": "model", "type": "nominal", "scale": {"domain": ["IMRPhenomHM", "IMRPhenomD"], "range": ["#2ca02c", "#9370db"]}, "legend": {"title": null, "labelExpr": "'ET ' + datum.label"}},
   "order": {"value": null}
  }}
]
}
